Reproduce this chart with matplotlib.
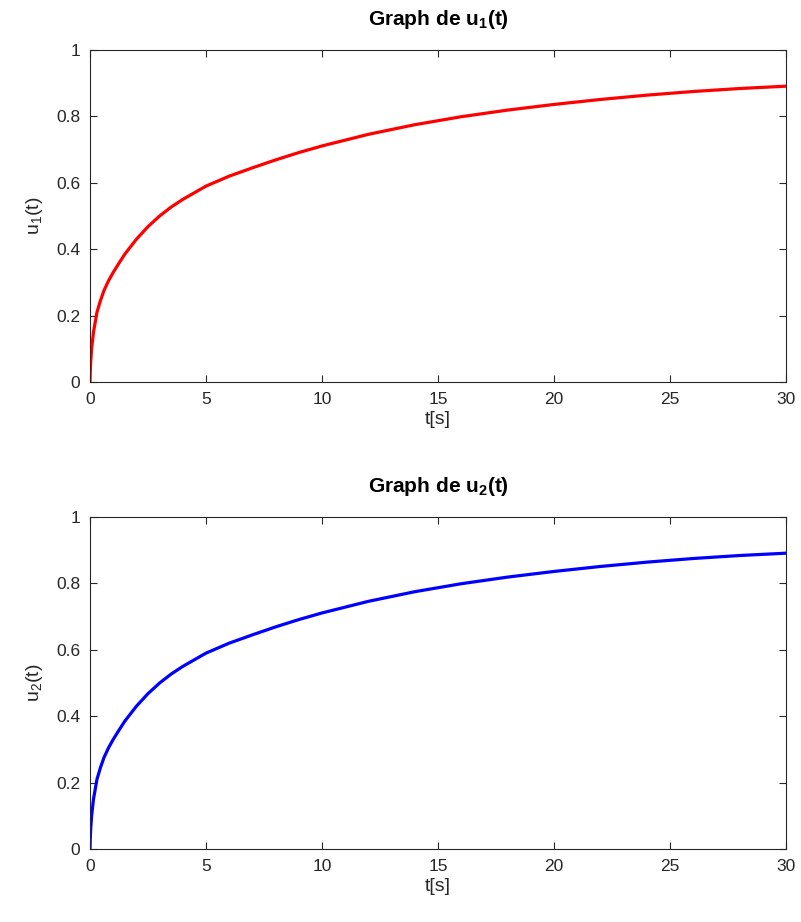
import matplotlib
matplotlib.use("Agg")
import matplotlib.pyplot as plt

plt.rcParams['font.family'] = ['Liberation Sans', 'DejaVu Sans']
plt.rcParams['mathtext.fontset'] = 'custom'
plt.rcParams['mathtext.rm'] = 'Liberation Sans'
plt.rcParams['mathtext.it'] = 'Liberation Sans'
plt.rcParams['mathtext.bf'] = 'Liberation Sans:bold'

# time samples and responses
t = [0, 0.01, 0.03, 0.07, 0.15, 0.3, 0.45, 0.6, 0.8, 1.0, 1.25, 1.5, 2.0,
     2.5, 3.0, 3.5, 4.0, 5.0, 6.0, 7.0, 8.0, 9.0, 10, 12, 14, 16, 18, 20,
     22, 24, 26, 28, 30]
u1 = [0, 0.03, 0.06, 0.10, 0.15, 0.21, 0.245, 0.275, 0.305, 0.33, 0.358,
      0.385, 0.43, 0.468, 0.50, 0.527, 0.55, 0.59, 0.62, 0.645, 0.669, 0.691,
      0.711, 0.746, 0.775, 0.799, 0.819, 0.836, 0.851, 0.864, 0.875, 0.884,
      0.891]
u2 = [0, 0.03, 0.06, 0.10, 0.15, 0.21, 0.245, 0.275, 0.305, 0.33, 0.358,
      0.385, 0.43, 0.468, 0.50, 0.527, 0.55, 0.59, 0.62, 0.645, 0.669, 0.691,
      0.711, 0.746, 0.775, 0.799, 0.819, 0.836, 0.851, 0.864, 0.875, 0.884,
      0.891]

xticks = [0, 5, 10, 15, 20, 25, 30]
yticks = [0, 0.2, 0.4, 0.6, 0.8, 1]
ytick_labels = ['0', '0.2', '0.4', '0.6', '0.8', '1']

W, H = 801, 922
fig = plt.figure(figsize=(W / 100, H / 100), dpi=100)

dark = '#262626'
panels = [
    (u1, 'red', r'Graph de u$_{\mathbf{1}}$(t)', r'u$_1$(t)', 50, 382),
    (u2, 'blue', r'Graph de u$_{\mathbf{2}}$(t)', r'u$_2$(t)', 517, 849),
]

for y, color, title, ylabel, top, bottom in panels:
    ax = fig.add_axes([90 / W, 1 - bottom / H, (786 - 90) / W, (bottom - top) / H])
    ax.plot(t, y, color=color, lw=2.3)
    ax.set_xlim(0, 30)
    ax.set_ylim(0, 1)
    ax.set_xticks(xticks)
    ax.set_yticks(yticks)
    ax.set_yticklabels(ytick_labels)
    ax.tick_params(direction='in', length=5, width=0.8, colors=dark,
                   labelsize=12.5, top=True, right=True)
    ax.tick_params(axis='x', pad=7)
    ax.tick_params(axis='y', pad=7)
    for s in ax.spines.values():
        s.set_color(dark)
        s.set_linewidth(0.8)
    ax.set_title(title, fontsize=15, fontweight='bold', pad=18, color='black')
    ax.set_xlabel('t[s]', fontsize=14, color=dark, labelpad=3)
    ax.set_ylabel(ylabel, fontsize=14, color=dark, labelpad=8)

fig.savefig('out.png', dpi=100)
